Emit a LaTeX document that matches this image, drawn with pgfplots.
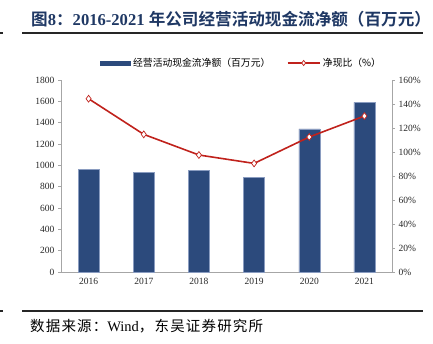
\documentclass[border=0pt]{standalone}
\usepackage{pgfplots}
\pgfplotsset{compat=1.18}
\usepackage{fontspec}
\setmainfont{Liberation Serif}
\newfontfamily\cjk{Noto Sans CJK SC}
\newfontfamily\cjkb{Noto Sans CJK SC}[BoldFont={* Bold}]
\newfontfamily\cjksp{Noto Sans CJK SC}[LetterSpace=8]
\definecolor{barblue}{HTML}{2C4A7C}
\definecolor{baredge}{HTML}{8A9CC0}
\definecolor{linered}{HTML}{C0221C}
\definecolor{titleblue}{HTML}{1F3864}
\definecolor{axgray}{HTML}{A6A6A6}
\begin{document}
\begin{tikzpicture}
\path[use as bounding box] (0pt,0pt) rectangle (433pt,-343pt);
% title
\node[anchor=west, text=titleblue, font=\bfseries\fontsize{16.6}{18}\selectfont, inner sep=0] at (31pt,-19pt) {{\cjkb\bfseries 图}8{\cjkb\bfseries ：}2016-2021 {\cjkb\bfseries 年公司经营活动现金流净额（百万元）}};
\draw[line width=1.4pt, black!85] (22pt,-33pt) -- (423pt,-33pt);
\draw[line width=1.2pt, black!85] (0pt,-33pt) -- (3pt,-33pt);
% bottom rule and source
\draw[line width=1.4pt, black!85] (22pt,-311pt) -- (423pt,-311pt);
\draw[line width=1.2pt, black!85] (0pt,-311pt) -- (3pt,-311pt);
\node[anchor=west, font=\fontsize{14.5}{16}\selectfont, inner sep=0] at (30pt,-326pt) {{\cjksp 数据来源：}Wind{\cjksp ，东吴证券研究所}};

\begin{axis}[
  at={(61pt,-272pt)}, anchor=south west,
  scale only axis, width=331pt, height=192pt,
  xmin=-0.5, xmax=5.5, ymin=0, ymax=1800,
  ytick={0,200,...,1800},
  xtick={0,...,5}, xticklabels={2016,2017,2018,2019,2020,2021},
  axis y line*=left, axis x line*=bottom,
  axis line style={axgray, line width=0.6pt},
  x axis line style={-}, y axis line style={-},
  major x tick style={draw=none},
  ytick style={axgray, line width=0.6pt},
  tick align=outside, major tick length=3pt,
  ticklabel style={font=\fontsize{9.5}{11}\selectfont, text=black!85},
  /pgf/number format/assume math mode=true,
  yticklabel style={/pgf/number format/1000 sep={}},
  xtick pos=bottom,
  ytick pos=left,
  clip=false,
]
\addplot[ybar, bar width=21pt, fill=barblue, draw=baredge, line width=0.5pt] coordinates {
 (0,965) (1,937) (2,956) (3,890) (4,1343) (5,1590)};
\end{axis}

\begin{axis}[
  at={(61pt,-272pt)}, anchor=south west,
  scale only axis, width=331pt, height=192pt,
  xmin=-0.5, xmax=5.5, ymin=0, ymax=160,
  ytick={0,20,...,160},
  yticklabel={\pgfmathprintnumber{\tick}\%},
  axis y line*=right, axis x line=none,
  y axis line style={axgray, line width=0.6pt, -},
  ytick style={axgray, line width=0.6pt},
  tick align=outside, major tick length=3pt,
  ticklabel style={font=\fontsize{9.5}{11}\selectfont, text=black!85},
  /pgf/number format/assume math mode=true,
  clip=false,
  legend columns=2,
  legend style={at={(0.118,1.0885)}, anchor=west, draw=none, fill=none,
    inner sep=0pt, font=\cjk\fontsize{9.8}{11}\selectfont,
    /tikz/every even column/.append style={column sep=14pt},
    nodes={inner xsep=2.5pt, inner ysep=1pt}},
]
\addlegendimage{legend image code/.code={\fill[barblue] (0pt,-2.25pt) rectangle (30pt,2.25pt);}}
\addlegendentry{经营活动现金流净额（百万元）}
\addplot[linered, line width=1.6pt, mark=diamond*, mark size=3.4pt,
  mark options={fill=white, draw=linered, line width=0.7pt},
  forget plot] coordinates {
 (0,144.4) (1,114.7) (2,97.5) (3,90.5) (4,112.5) (5,130)};
\addlegendimage{legend image code/.code={\draw[linered, line width=1.6pt, mark=diamond*, mark size=2.6pt, mark options={fill=white, draw=linered, line width=0.7pt}, mark repeat=2, mark phase=2] plot coordinates {(0pt,0pt)(16pt,0pt)(32pt,0pt)};}}
\addlegendentry{净现比（\%）}
\end{axis}
\end{tikzpicture}
\end{document}
